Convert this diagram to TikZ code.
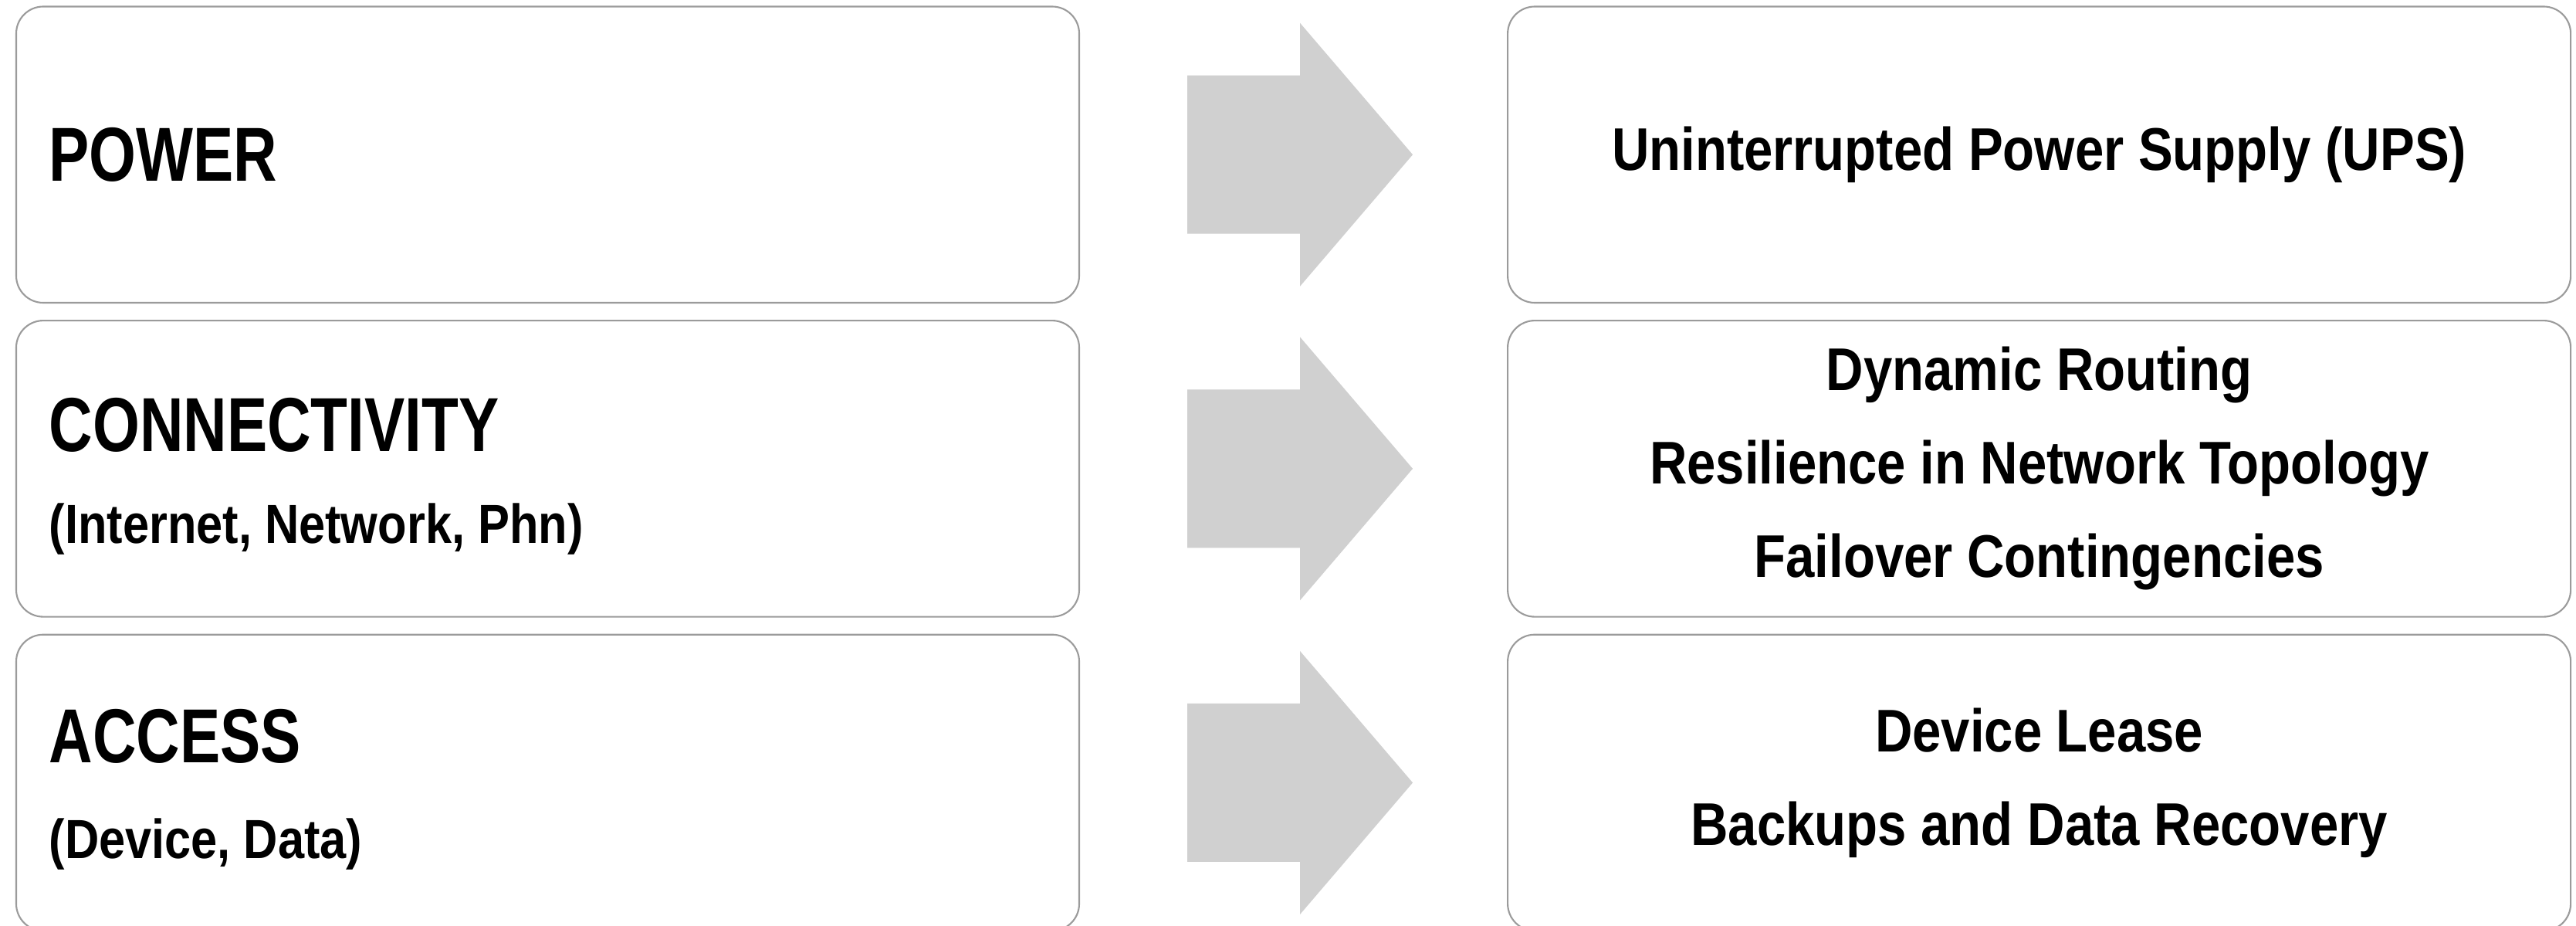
\documentclass[tikz,border=0pt]{standalone}
\usepackage{fontspec}
\setmainfont{Liberation Sans}[FakeStretch=0.86]
\newfontfamily\titlefont{Liberation Sans}[FakeStretch=0.79]
\usetikzlibrary{positioning}
\definecolor{boxgray}{RGB}{155,155,155}
\definecolor{arrowgray}{RGB}{208,208,208}

\begin{document}
\begin{tikzpicture}[node distance=0.21cm,
    box/.style={draw=boxgray, line width=0.6pt, rounded corners=0.35cm,
      minimum width=13.77cm, minimum height=3.835cm, inner sep=0pt},
    goal/.style={box, align=center, font=\bfseries\fontsize{22.2}{34.4}\selectfont},
    title/.style={font=\titlefont\bfseries\fontsize{28.2}{30}\selectfont, inner sep=0pt},
    sub/.style={font=\bfseries\fontsize{20.3}{24}\selectfont, inner sep=0pt}]
  \clip (0,0) rectangle (33.37,-11.99);
  % left column
  \node[box] (pow) at (7.095,-2.0025) {};
  \node[box, below=of pow] (con) {};
  \node[box, below=of con] (acc) {};
  \node[title, anchor=west] (powt) at ([xshift=0.43cm]pow.west) {POWER};
  \node[title, anchor=base west] (cont) at ([xshift=0.43cm, yshift=-1.70cm]con.north west) {CONNECTIVITY};
  \node[sub, anchor=base west] (cons) at ([xshift=0.43cm, yshift=-2.89cm]con.north west) {(Internet, Network, Phn)};
  \node[title, anchor=base west] (acct) at ([xshift=0.43cm, yshift=-1.67cm]acc.north west) {ACCESS};
  \node[sub, anchor=base west] (accs) at ([xshift=0.43cm, yshift=-2.91cm]acc.north west) {(Device, Data)};
  % right column
  \node[goal, right=5.53cm of pow] (ups) {Uninterrupted Power Supply (UPS)};
  \node[goal, right=5.53cm of con] (route) {Dynamic Routing\\Resilience in Network Topology\\Failover Contingencies};
  \node[goal, right=5.53cm of acc] (lease) {Device Lease\\Backups and Data Recovery};
  % arrows
  \foreach \a in {pow,con,acc}
    \fill[arrowgray] ([xshift=1.39cm, yshift=1.025cm]\a.east) -- ++(1.46,0) -- ++(0,0.68)
      -- ++(1.46,-1.705) -- ++(-1.46,-1.705) -- ++(0,0.68) -- ++(-1.46,0) -- cycle;
\end{tikzpicture}
\end{document}
